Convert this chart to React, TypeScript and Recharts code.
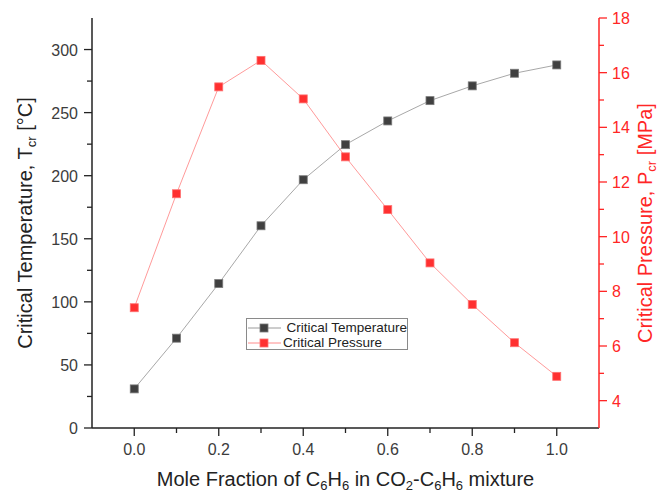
import { LineChart, Line, XAxis, YAxis, Legend } from 'recharts';

const moleFraction = [0, 0.1, 0.2, 0.3, 0.4, 0.5, 0.6, 0.7, 0.8, 0.9, 1.0];
const criticalTemperature = [31, 71.2, 114.5, 160.3, 196.8, 224.6, 243.4, 259.5, 271.2, 281.2, 287.8];
const criticalPressure = [7.4, 11.57, 15.48, 16.45, 15.04, 12.92, 10.99, 9.04, 7.52, 6.12, 4.89];

const xTicks = [0, 0.1, 0.2, 0.3, 0.4, 0.5, 0.6, 0.7, 0.8, 0.9, 1.0];
const xLabels = [0, 0.2, 0.4, 0.6, 0.8, 1.0];
const tempTicks = [0, 25, 50, 75, 100, 125, 150, 175, 200, 225, 250, 275, 300];
const tempLabels = [0, 50, 100, 150, 200, 250, 300];
const pressureTicks = [4, 5, 6, 7, 8, 9, 10, 11, 12, 13, 14, 15, 16, 17, 18];
const pressureLabels = [4, 6, 8, 10, 12, 14, 16, 18];

const data = moleFraction.map((x, i) => ({
  x,
  temp: criticalTemperature[i],
  pres: criticalPressure[i],
}));

const FONT = '"Liberation Sans", Arial, sans-serif';
const RED = '#ff2626';
const TICK_GRAY = '#3c3c3c';

const BottomTick = ({ x, y, payload }: any) => {
  const major = xLabels.includes(payload.value);
  return (
    <g>
      <line x1={x} x2={x} y1={y} y2={y + (major ? 8 : 5)} stroke="#222" strokeWidth={1.3} />
      {major && (
        <text x={x} y={y + 27} textAnchor="middle" fontSize={16} fill={TICK_GRAY} fontFamily={FONT}>
          {payload.value.toFixed(1)}
        </text>
      )}
    </g>
  );
};

const TopTick = ({ x, y, payload }: any) => {
  const major = xLabels.includes(payload.value);
  return <line x1={x} x2={x} y1={y} y2={y + (major ? 7 : 4)} stroke="#222" strokeWidth={1.3} />;
};

const LeftTick = ({ x, y, payload }: any) => {
  const major = tempLabels.includes(payload.value);
  return (
    <g>
      <line x1={x - (major ? 8 : 5)} x2={x} y1={y} y2={y} stroke="#222" strokeWidth={1.3} />
      {major && (
        <text x={x - 14} y={y + 6} textAnchor="end" fontSize={16} fill={TICK_GRAY} fontFamily={FONT}>
          {payload.value}
        </text>
      )}
    </g>
  );
};

const RightTick = ({ x, y, payload }: any) => {
  const major = pressureLabels.includes(payload.value);
  return (
    <g>
      <line x1={x} x2={x + (major ? 8 : 5)} y1={y} y2={y} stroke={RED} strokeWidth={1.3} />
      {major && (
        <text x={x + 13} y={y + 6} textAnchor="start" fontSize={16} fill={RED} fontFamily={FONT}>
          {payload.value}
        </text>
      )}
    </g>
  );
};

const XTitle = ({ viewBox }: any) => {
  const cx = viewBox.x + viewBox.width / 2;
  const sub = { fontSize: 13 };
  return (
    <text x={cx} y={486} textAnchor="middle" fontSize={20} fill="#222" fontFamily={FONT}>
      Mole Fraction of C<tspan {...sub} dy={4}>6</tspan>
      <tspan dy={-4}>H</tspan><tspan {...sub} dy={4}>6</tspan>
      <tspan dy={-4}> in CO</tspan><tspan {...sub} dy={4}>2</tspan>
      <tspan dy={-4}>-C</tspan><tspan {...sub} dy={4}>6</tspan>
      <tspan dy={-4}>H</tspan><tspan {...sub} dy={4}>6</tspan>
      <tspan dy={-4}> mixture</tspan>
    </text>
  );
};

const LeftTitle = ({ viewBox }: any) => {
  const cy = viewBox.y + viewBox.height / 2;
  const cx = 25;
  return (
    <text x={cx} y={cy + 7} transform={`rotate(-90, ${cx}, ${cy})`} textAnchor="middle" fontSize={20} fill="#222" fontFamily={FONT}>
      Critical Temperature, T<tspan fontSize={13} dy={4}>cr</tspan>
      <tspan dy={-4}> [°C]</tspan>
    </text>
  );
};

const RightTitle = ({ viewBox }: any) => {
  const cy = viewBox.y + viewBox.height / 2;
  const cx = 645;
  return (
    <text x={cx} y={cy + 7} transform={`rotate(-90, ${cx}, ${cy})`} textAnchor="middle" fontSize={20} fill={RED} fontFamily={FONT}>
      Critical Pressure, P<tspan fontSize={13} dy={4}>cr</tspan>
      <tspan dy={-4}> [MPa]</tspan>
    </text>
  );
};

const squareDot = (fill: string, stroke: string) => (props: any) => {
  const { cx, cy, index } = props;
  return <rect key={`d-${fill}-${index}`} x={cx - 4} y={cy - 4} width={8} height={8} fill={fill} stroke={stroke} strokeWidth={0.8} />;
};

const LegendBox = () => {
  const rows = [
    { name: ' Critical Temperature', line: '#9a9a9a', fill: '#404040', stroke: '#7a7a7a' },
    { name: 'Critical Pressure', line: '#ff8c8c', fill: '#ff3030', stroke: '#ff7070' },
  ];
  return (
    <div style={{ border: '1.5px solid #8a8a8a', width: 162, height: 32, background: '#fff', fontFamily: FONT, fontSize: 13.5, color: '#222', boxSizing: 'border-box', paddingTop: 1 }}>
      {rows.map(r => (
        <div key={r.name} style={{ display: 'flex', alignItems: 'center', height: 15 }}>
          <svg width={34} height={12} style={{ marginLeft: 1 }}>
            <line x1={0} x2={33} y1={6} y2={6} stroke={r.line} strokeWidth={1} />
            <rect x={12} y={2} width={8} height={8} fill={r.fill} stroke={r.stroke} strokeWidth={0.8} />
          </svg>
          <span style={{ whiteSpace: 'pre', marginLeft: 1 }}>{r.name}</span>
        </div>
      ))}
    </div>
  );
};

export default function App() {
  return (
    <div style={{ position: 'absolute', left: 0, top: 0, width: 662, height: 494, background: '#fff' }}>
      <LineChart width={662} height={494} data={data} margin={{ top: 18, right: 0, bottom: 0, left: 0 }}>
        <XAxis
          xAxisId="bottom"
          type="number"
          dataKey="x"
          domain={[-0.1, 1.1]}
          ticks={xTicks}
          interval={0}
          height={66}
          tickSize={0}
          tickMargin={0}
          tickLine={false}
          tick={<BottomTick />}
          axisLine={{ stroke: '#222', strokeWidth: 1.5 }}
          label={<XTitle />}
        />
        <XAxis
          xAxisId="top"
          orientation="top"
          type="number"
          dataKey="x"
          domain={[-0.1, 1.1]}
          ticks={xTicks}
          interval={0}
          height={0}
          tickSize={0}
          tickMargin={0}
          tickLine={false}
          tick={<TopTick />}
          axisLine={{ stroke: '#222', strokeWidth: 1.5 }}
        />
        <YAxis
          yAxisId="left"
          type="number"
          domain={[0, 325]}
          ticks={tempTicks}
          interval={0}
          width={92}
          tickSize={0}
          tickMargin={0}
          tickLine={false}
          tick={<LeftTick />}
          axisLine={{ stroke: '#222', strokeWidth: 1.5 }}
          allowDataOverflow
          label={<LeftTitle />}
        />
        <YAxis
          yAxisId="right"
          orientation="right"
          type="number"
          domain={[3, 18]}
          ticks={pressureTicks}
          interval={0}
          width={63}
          tickSize={0}
          tickMargin={0}
          tickLine={false}
          tick={<RightTick />}
          axisLine={{ stroke: RED, strokeWidth: 1.5 }}
          allowDataOverflow
          label={<RightTitle />}
        />
        <Legend
          layout="horizontal"
          verticalAlign="middle"
          align="center"
          wrapperStyle={{ left: 246, top: 318, width: 165 }}
          content={<LegendBox />}
        />
        <Line
          xAxisId="bottom"
          yAxisId="left"
          type="linear"
          dataKey="temp"
          name="Critical Temperature"
          stroke="#a8a8a8"
          strokeWidth={1}
          dot={squareDot('#404040', '#7a7a7a')}
          activeDot={false}
          isAnimationActive={false}
        />
        <Line
          xAxisId="bottom"
          yAxisId="right"
          type="linear"
          dataKey="pres"
          name="Critical Pressure"
          stroke="#ff9a9a"
          strokeWidth={1}
          dot={squareDot('#ff3030', '#ff7070')}
          activeDot={false}
          isAnimationActive={false}
        />
      </LineChart>
    </div>
  );
}
